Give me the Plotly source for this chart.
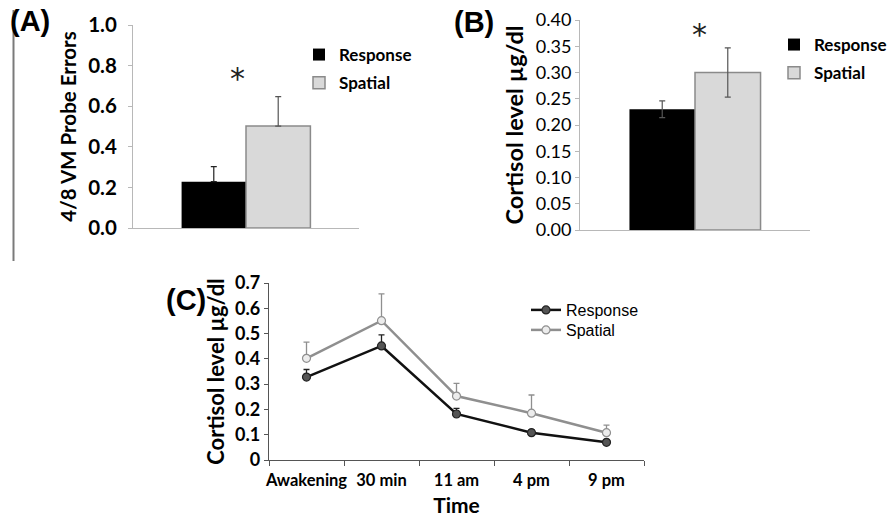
import plotly.graph_objects as go

W, H = 892, 517

# ---- data ----
groups = ["Response", "Spatial"]
probe_errors = [0.228, 0.502]
probe_err_plus = [0.074, 0.145]
probe_ticks = [0.0, 0.2, 0.4, 0.6, 0.8, 1.0]
cortisol_mean = [0.230, 0.300]
cortisol_err = [0.016, 0.047]

times = ["Awakening", "30 min", "11 am", "4 pm", "9 pm"]
resp_curve = [0.328, 0.451, 0.182, 0.108, 0.070]
resp_curve_err = [0.030, 0.044, 0.022, 0.011, 0.006]
spat_curve = [0.402, 0.551, 0.253, 0.185, 0.108]
spat_curve_err = [0.064, 0.106, 0.050, 0.072, 0.030]
curve_ticks = [0, 0.1, 0.2, 0.3, 0.4, 0.5, 0.6, 0.7]

BLACK = "#000000"
GREY_FILL = "#d9d9d9"
GREY_LINE = "#8a8a8a"
AX_LIGHT = "#b8b8b8"
LATO = "Lato"
ARIAL = "Liberation Sans"


def px(x):
    return x / W


def py(y):
    return 1 - y / H


def b(s):
    return f"<b>{s}</b>"


fig = go.Figure()

cat = ["g"]
# Panel A
fig.add_trace(go.Bar(x=cat, y=[probe_errors[0]], name=groups[0], marker=dict(color=BLACK, line=dict(width=0)),
                     error_y=dict(type="data", symmetric=False, array=[probe_err_plus[0]], arrayminus=[0],
                                  color="#222", thickness=1.2, width=3),
                     xaxis="x", yaxis="y", legend="legend", legendgroup="a1"))
fig.add_trace(go.Bar(x=cat, y=[probe_errors[1]], name=groups[1], marker=dict(color=GREY_FILL, line=dict(color=GREY_LINE, width=1.5)),
                     error_y=dict(type="data", symmetric=False, array=[probe_err_plus[1]], arrayminus=[0],
                                  color="#555", thickness=1.2, width=3),
                     xaxis="x", yaxis="y", legend="legend", legendgroup="a2"))
# Panel B
fig.add_trace(go.Bar(x=cat, y=[cortisol_mean[0]], name=groups[0], marker=dict(color=BLACK, line=dict(width=0)),
                     error_y=dict(type="data", array=[cortisol_err[0]], color="#555", thickness=1.2, width=3),
                     xaxis="x2", yaxis="y2", legend="legend2", legendgroup="b1"))
fig.add_trace(go.Bar(x=cat, y=[cortisol_mean[1]], name=groups[1], marker=dict(color=GREY_FILL, line=dict(color=GREY_LINE, width=1.5)),
                     error_y=dict(type="data", array=[cortisol_err[1]], color="#555", thickness=1.2, width=3),
                     xaxis="x2", yaxis="y2", legend="legend2", legendgroup="b2"))
# Panel C
fig.add_trace(go.Scatter(x=times, y=spat_curve, name="Spatial", mode="lines+markers",
                         line=dict(color="#8f8f8f", width=2.5),
                         marker=dict(symbol="circle", size=8, color="#ececec", line=dict(color="#8f8f8f", width=1.2)),
                         error_y=dict(type="data", symmetric=False, array=spat_curve_err, arrayminus=[0] * 5,
                                      color="#8f8f8f", thickness=1.3, width=3),
                         xaxis="x3", yaxis="y3", legend="legend4"))
fig.add_trace(go.Scatter(x=times, y=resp_curve, name="Response", mode="lines+markers",
                         line=dict(color="#111111", width=2.5),
                         marker=dict(symbol="circle", size=8, color="#555555", line=dict(color="#222222", width=1.2)),
                         error_y=dict(type="data", symmetric=False, array=resp_curve_err, arrayminus=[0] * 5,
                                      color="#222222", thickness=1.3, width=3),
                         xaxis="x3", yaxis="y3", legend="legend3"))

fig.update_layout(
    width=W, height=H, margin=dict(l=0, r=0, t=0, b=0),
    paper_bgcolor="white", plot_bgcolor="white",
    barmode="group", bargap=0.43,
    xaxis=dict(domain=[px(133), px(359)], showticklabels=False, showline=True, linecolor=AX_LIGHT,
               showgrid=False, zeroline=False, ticks="", anchor="y", automargin=False),
    yaxis=dict(domain=[py(228), py(25)], range=[0, 1.0], tickvals=probe_ticks,
               ticktext=[b(f"{v:.1f}") for v in probe_ticks], showline=True,
               linecolor=AX_LIGHT, showgrid=False, zeroline=False, ticks="outside", ticklen=4, tickcolor=AX_LIGHT,
               tickfont=dict(family=LATO, size=20.5, color="black"), ticklabelstandoff=7, anchor="x",
               automargin=False,
               title=dict(text=b("4/8 VM Probe Errors"), font=dict(family=LATO, size=20.5, color="black"),
                          standoff=6)),
    xaxis2=dict(domain=[px(580), px(810)], showticklabels=False, showline=True, linecolor=AX_LIGHT,
                showgrid=False, zeroline=False, ticks="", anchor="y2", automargin=False),
    yaxis2=dict(domain=[py(230), py(20)], range=[0, 0.4], dtick=0.05, tickformat=".2f", showline=True,
                linecolor=AX_LIGHT, showgrid=False, zeroline=False, ticks="outside", ticklen=4, tickcolor=AX_LIGHT,
                tickfont=dict(family=LATO, size=18, color="black"), anchor="x2", automargin=False,
                title=dict(text=b("Cortisol level µg/dl"), font=dict(family=LATO, size=23.5, color="black"),
                           standoff=5)),
    xaxis3=dict(domain=[px(269), px(644)], range=[-0.5, 4.5], showline=True, linecolor="#555", linewidth=1.3,
                showgrid=False, zeroline=False, ticks="outside", ticklen=5, tickcolor="#555", tickson="boundaries",
                tickvals=times, ticktext=[b(t) for t in times], tickangle=0, ticklabelstandoff=5,
                tickfont=dict(family=LATO, size=16.5, color="black"), anchor="y3", automargin=False,
                title=dict(text=b("Time"), font=dict(family=LATO, size=21, color="black"), standoff=12)),
    yaxis3=dict(domain=[py(460), py(283)], range=[0, 0.7], tickvals=curve_ticks,
                ticktext=[b(f"{v:g}") for v in curve_ticks], showline=True, linecolor="#555",
                linewidth=1.3, showgrid=False, zeroline=False, ticks="outside", ticklen=4, tickcolor="#555",
                tickfont=dict(family=LATO, size=18, color="black"), anchor="x3", automargin=False,
                title=dict(text=b("Cortisol level µg/dl"), font=dict(family=LATO, size=22, color="black"),
                           standoff=4)),
    legend=dict(x=px(299), y=py(37), xanchor="left", yanchor="top", bgcolor="rgba(0,0,0,0)",
                font=dict(family=LATO, size=17, color="black", weight="bold"), tracegroupgap=3,
                traceorder="grouped"),
    legend2=dict(x=px(774), y=py(27), xanchor="left", yanchor="top", bgcolor="rgba(0,0,0,0)",
                 font=dict(family=LATO, size=17, color="black", weight="bold"), tracegroupgap=3,
                 traceorder="grouped"),
    legend3=dict(x=px(526), y=py(293), xanchor="left", yanchor="top", bgcolor="rgba(0,0,0,0)",
                 font=dict(family=ARIAL, size=16, color="black"), itemwidth=30),
    legend4=dict(x=px(526), y=py(313), xanchor="left", yanchor="top", bgcolor="rgba(0,0,0,0)",
                 font=dict(family=ARIAL, size=16, color="black"), itemwidth=30),
    showlegend=True,
)

label_font = dict(family=ARIAL, size=29, color="black")
anns = [
    dict(text=b("(A)"), x=px(8), y=py(21), xref="paper", yref="paper", xanchor="left", yanchor="middle",
         showarrow=False, font=label_font),
    dict(text=b("(B)"), x=px(452), y=py(22), xref="paper", yref="paper", xanchor="left", yanchor="middle",
         showarrow=False, font=label_font),
    dict(text=b("(C)"), x=px(164), y=py(300), xref="paper", yref="paper", xanchor="left", yanchor="middle",
         showarrow=False, font=label_font),
    dict(text="*", x=px(237), y=py(79), xref="paper", yref="paper", xanchor="center", yanchor="middle",
         showarrow=False, font=dict(family="DejaVu Sans", size=30, color="#222")),
    dict(text="*", x=px(699), y=py(34), xref="paper", yref="paper", xanchor="center", yanchor="middle",
         showarrow=False, font=dict(family="DejaVu Sans", size=30, color="#222")),
]
fig.update_layout(annotations=anns)
fig.add_shape(type="line", xref="paper", yref="paper", x0=px(13.5), x1=px(13.5), y0=py(10), y1=py(261),
              line=dict(color="#7a7a7a", width=2))

fig.write_html("out.html", config={"displayModeBar": False},
               post_script="document.body.style.margin='0';document.body.style.overflow='hidden';")
